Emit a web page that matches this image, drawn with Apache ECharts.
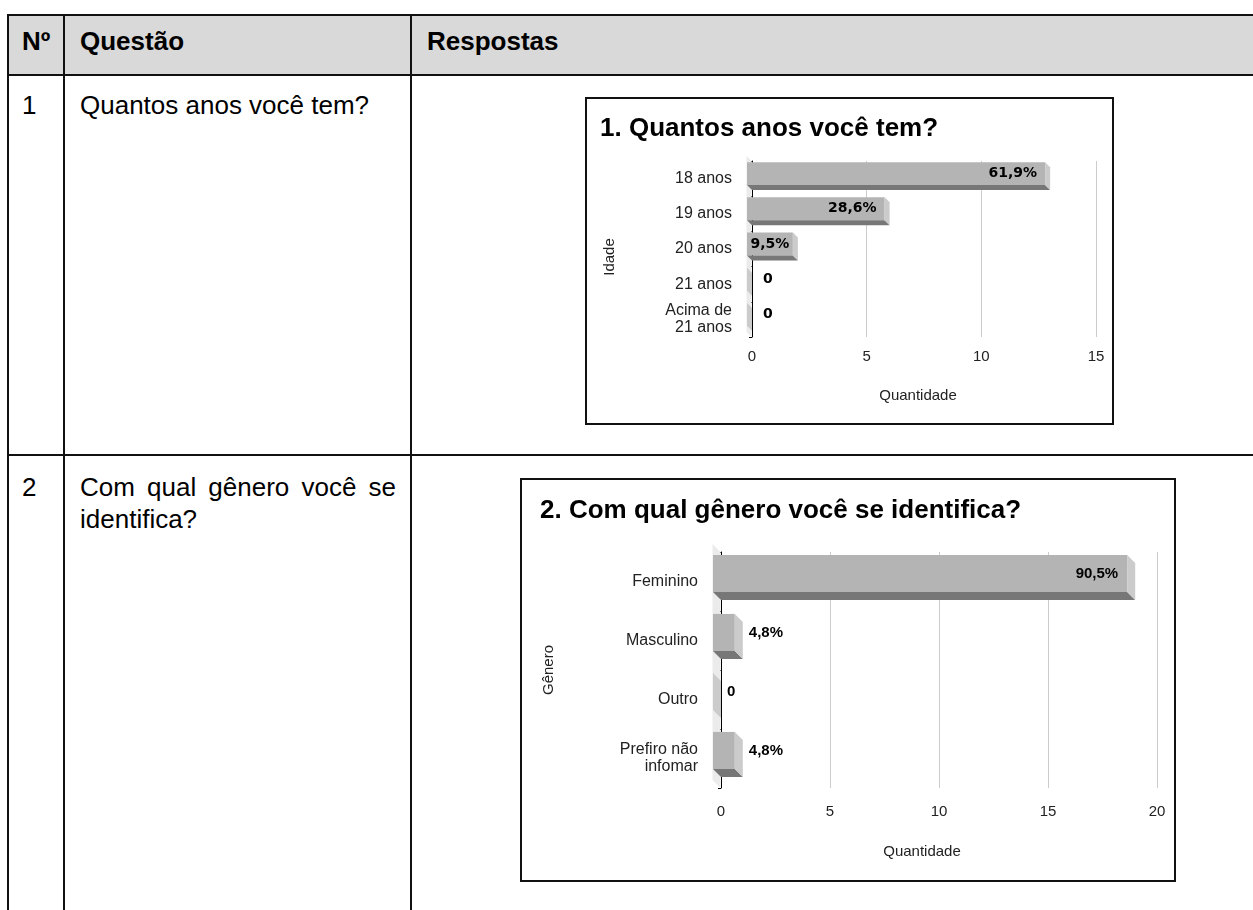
<!DOCTYPE html>
<html>
<head>
<meta charset="utf-8">
<script src="https://cdn.jsdelivr.net/npm/echarts@6/dist/echarts.min.js"></script>
<style>
  html, body { margin: 0; padding: 0; background: #fff; width: 1253px; height: 910px; overflow: hidden;
    font-family: "Liberation Sans", Arial, sans-serif; color: #000; }
  .ln { position: absolute; background: #111; }
  .hdr { position: absolute; background: #d9d9d9; }
  .t { position: absolute; font-size: 26px; line-height: 26px; white-space: nowrap; }
  .b { font-weight: bold; }
  .just { white-space: normal; text-align: justify; line-height: 32px; }
  .chart { position: absolute; background: #fff; }
  .frame { position: absolute; border: 2px solid #111; box-sizing: border-box; pointer-events: none; }
</style>
</head>
<body>
  <!-- survey table -->
  <div class="hdr" style="left:9px;top:16px;width:1250px;height:58px;"></div>
  <div class="ln" style="left:7px;top:14px;width:1250px;height:2px;"></div>
  <div class="ln" style="left:7px;top:74px;width:1250px;height:2px;"></div>
  <div class="ln" style="left:7px;top:454px;width:1250px;height:2px;"></div>
  <div class="ln" style="left:7px;top:14px;width:2px;height:900px;"></div>
  <div class="ln" style="left:63px;top:14px;width:2px;height:900px;"></div>
  <div class="ln" style="left:410px;top:14px;width:2px;height:900px;"></div>

  <div class="t b" style="left:22px;top:28px;">Nº</div>
  <div class="t b" style="left:80px;top:28px;">Questão</div>
  <div class="t b" style="left:427px;top:28px;">Respostas</div>

  <div class="t" style="left:22px;top:92px;">1</div>
  <div class="t" style="left:80px;top:92px;">Quantos anos você tem?</div>

  <div class="t" style="left:22px;top:474px;">2</div>
  <div class="t just" style="left:80px;top:471px;width:316px;">Com qual gênero você se identifica?</div>

  <div id="chartAge" class="chart" style="left:585px;top:97px;width:529px;height:328px;"></div>
  <div class="frame" style="left:585px;top:97px;width:529px;height:328px;"></div>

  <div id="chartGender" class="chart" style="left:520px;top:478px;width:656px;height:404px;"></div>
  <div class="frame" style="left:520px;top:478px;width:656px;height:404px;"></div>

<script>
// Question 1: age
const ageTitle = '1. Quantos anos você tem?';
const ageCategories = ['18 anos', '19 anos', '20 anos', '21 anos', 'Acima de\n21 anos'];
const ageCounts = [13, 6, 2, 0, 0];
const ageAxisMax = 15;
const ageAxisStep = 5;

// Question 2: gender
const genderTitle = '2. Com qual gênero você se identifica?';
const genderCategories = ['Feminino', 'Masculino', 'Outro', 'Prefiro não\ninfomar'];
const genderCounts = [19, 1, 0, 1];
const genderAxisMax = 20;
const genderAxisStep = 5;

const valueAxisName = 'Quantidade';

const FACE = { front: '#b4b4b4', bottom: '#777777', side: '#cbcbcb', wall: '#ebebeb' };

const measureCtx = document.createElement('canvas').getContext('2d');
function textWidth(str, font) {
  measureCtx.font = font;
  return measureCtx.measureText(str).width;
}

function pctLabel(v, total) {
  if (v === 0) return '0';
  return (v / total * 100).toFixed(1).replace('.', ',') + '%';
}

// 3D-looking horizontal bar: front face shifted up-left by `depth`,
// with a dark bottom face and a light end face joining it to the back plane.
function barRenderer(cfg, labels) {
  return function (params, api) {
    const idx = api.value(1);
    const val = api.value(0);
    const p0 = api.coord([0, idx]);
    const p1 = api.coord([val, idx]);
    const band = api.size([0, 1])[1];
    const h = band * cfg.ratio;
    const d = cfg.depth;
    const top = p0[1] - h / 2;
    const bot = p0[1] + h / 2;
    const w = p1[0] - p0[0];
    const children = [];
    if (w > 0) {
      children.push({ type: 'rect', shape: { x: p0[0] - d, y: top - d, width: w, height: h },
        style: { fill: FACE.front } });
      children.push({ type: 'polygon',
        shape: { points: [[p0[0] - d, bot - d], [p1[0] - d, bot - d], [p1[0], bot], [p0[0], bot]] },
        style: { fill: FACE.bottom } });
    }
    children.push({ type: 'polygon',
      shape: { points: [[p1[0] - d, top - d], [p1[0], top], [p1[0], bot], [p1[0] - d, bot - d]] },
      style: { fill: FACE.side } });

    // value label: inside the front face when it fits, otherwise just past the bar end
    const txt = labels[params.dataIndex];
    const tw = textWidth(txt, cfg.labelFont);
    let tx, align;
    if (val > 0 && w >= tw + 6) {
      tx = p1[0] - d - Math.min(cfg.padIn, (w - tw) / 2); align = 'right';
    } else {
      tx = p1[0] + cfg.gapOut; align = 'left';
    }
    children.push({ type: 'text', x: tx, y: p0[1] - d,
      style: { text: txt, font: cfg.labelFont, fill: '#000', align: align, verticalAlign: 'middle' } });
    return { type: 'group', children: children };
  };
}

// Light side wall at the left of the plot area
function wallRenderer(depth) {
  return function (params, api) {
    const cs = params.coordSys;
    const x = cs.x - 0.5, y = cs.y, hh = cs.height;
    return { type: 'polygon',
      shape: { points: [[x - depth, y - depth], [x, y], [x, y + hh], [x - depth, y + hh - depth]] },
      style: { fill: FACE.wall } };
  };
}

function buildOption(c) {
  const total = c.counts.reduce((a, b) => a + b, 0);
  const labels = c.counts.map(v => pctLabel(v, total));
  const data = c.counts.map((v, i) => [v, i]);
  const axisFont = { fontFamily: 'Liberation Sans', fontSize: c.axisFontSize, color: '#222' };
  const catFont = { fontFamily: 'Liberation Sans', fontSize: c.catFontSize, color: '#222' };
  return {
    animation: false,
    title: { text: c.title, left: c.titleLeft, top: c.titleTop, padding: 0,
      textStyle: { fontFamily: 'Liberation Sans', fontWeight: 'bold', fontSize: 26, color: '#000' } },
    grid: c.grid,
    xAxis: {
      type: 'value', min: 0, max: c.max, interval: c.step,
      name: valueAxisName, nameLocation: 'middle', nameGap: c.xNameGap,
      nameTextStyle: Object.assign({ padding: [0, c.xNameShift, 0, 0] }, axisFont),
      axisLine: { show: false }, axisTick: { show: false },
      axisLabel: Object.assign({ margin: c.xLabelMargin }, axisFont),
      splitLine: { lineStyle: { color: '#cccccc', width: 1 } }
    },
    yAxis: {
      type: 'category', inverse: true, data: c.categories,
      name: c.yName, nameLocation: 'middle', nameRotate: 90, nameGap: c.yNameGap,
      nameTextStyle: Object.assign({ padding: [0, c.yNameShift, 0, 0] }, axisFont),
      axisLine: { show: true, lineStyle: { color: '#000', width: 1 } },
      axisTick: { show: true, length: 3, lineStyle: { color: '#000' } },
      axisLabel: Object.assign({ interval: 0, hideOverlap: false, margin: c.yLabelMargin,
        lineHeight: c.catFontSize + 1, padding: [0, 0, c.depth * 2, 0] }, catFont),
      splitLine: { show: false }
    },
    series: [
      { type: 'custom', name: 'wall', z: 1, silent: true, data: [[0, 0]],
        renderItem: wallRenderer(c.depth) },
      { type: 'custom', name: c.yName, z: 3, data: data,
        encode: { x: 0, y: 1 },
        renderItem: barRenderer({ depth: c.depth, ratio: c.ratio, labelFont: c.labelFont,
          padIn: c.padIn, gapOut: c.gapOut }, labels) }
    ]
  };
}

const ageChart = echarts.init(document.getElementById('chartAge'));
ageChart.setOption(buildOption({
  title: ageTitle, titleLeft: 15, titleTop: 19,
  categories: ageCategories, counts: ageCounts, max: ageAxisMax, step: ageAxisStep,
  yName: 'Idade',
  grid: { left: 167, top: 64, width: 344, height: 176 },
  depth: 5, ratio: 0.65, axisFontSize: 15, catFontSize: 16,
  labelFont: 'bold 14px "DejaVu Sans"', padIn: 8, gapOut: 11,
  xLabelMargin: 12, xNameGap: 51, xNameShift: 12, yLabelMargin: 20, yNameGap: 135, yNameShift: 16
}));

const genderChart = echarts.init(document.getElementById('chartGender'));
genderChart.setOption(buildOption({
  title: genderTitle, titleLeft: 20, titleTop: 20,
  categories: genderCategories, counts: genderCounts, max: genderAxisMax, step: genderAxisStep,
  yName: 'Gênero',
  grid: { left: 201, top: 74, width: 436, height: 236 },
  depth: 8, ratio: 0.63, axisFontSize: 15, catFontSize: 16,
  labelFont: 'bold 15px "Liberation Sans"', padIn: 9, gapOut: 6,
  xLabelMargin: 16, xNameGap: 56, xNameShift: 34, yLabelMargin: 23, yNameGap: 165, yNameShift: 0
}));
</script>
</body>
</html>
